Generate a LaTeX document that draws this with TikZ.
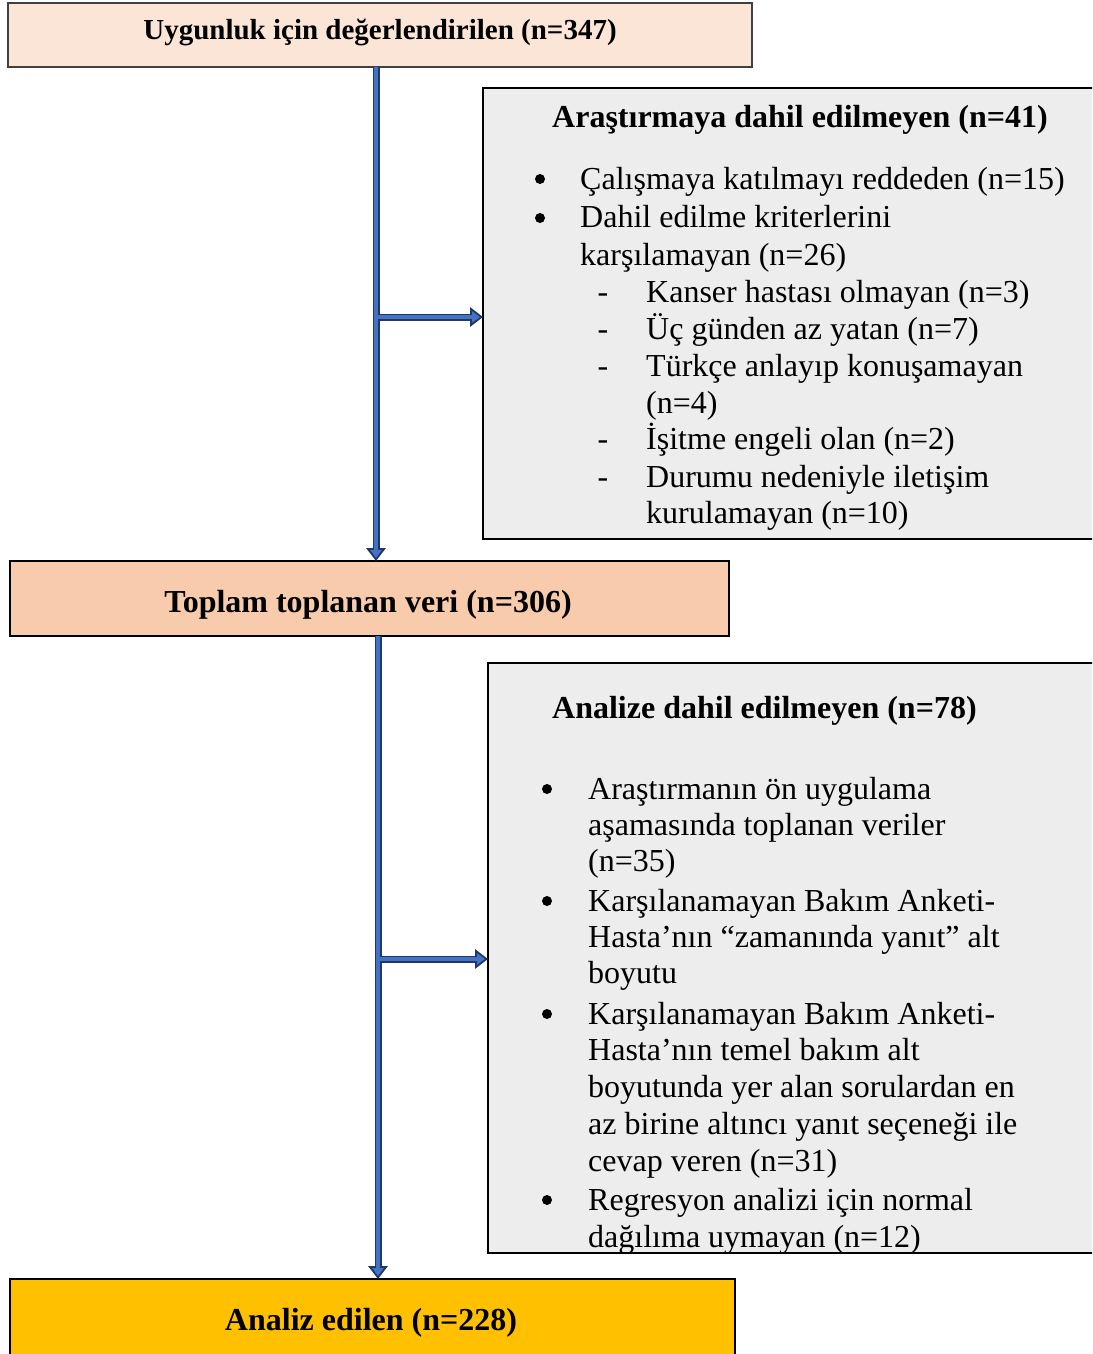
\documentclass[tikz,border=0pt]{standalone}
\usepackage{fontspec}
\setmainfont{Liberation Serif}
\usetikzlibrary{arrows.meta}
\definecolor{peachlight}{HTML}{FBE5D6}
\definecolor{peach}{HTML}{F8CBAD}
\definecolor{gold}{HTML}{FFC000}
\definecolor{panel}{HTML}{EDEDED}
\definecolor{navy}{HTML}{1F3864}
\definecolor{arrblue}{HTML}{4472C4}
\definecolor{edgegray}{HTML}{404040}
\tikzset{
  box/.style={rectangle, anchor=north west, inner sep=0pt, outer sep=0pt, line width=1.6pt},
  ttl/.style={anchor=base, inner sep=0pt, font=\fontsize{32pt}{36.8pt}\selectfont\bfseries},
  ln/.style={anchor=base west, inner sep=0pt, font=\fontsize{32pt}{36.8pt}\selectfont},
  bul/.style={anchor=base, inner sep=0pt, font=\fontsize{32pt}{36.8pt}\selectfont},
  dot/.style={circle, fill=black, inner sep=0pt, minimum size=10pt},
  arrout/.style={draw=navy, line width=7pt, -{Triangle[length=13pt,width=19pt]}},
  arrin/.style={draw=arrblue, line width=3.2pt, -{Triangle[length=8pt,width=11pt]}, shorten >=3pt}
}
\begin{document}
\begin{tikzpicture}[x=1pt,y=-1pt]
\clip (0,0) rectangle (1092,1354);
\fill[white] (0,0) rectangle (1092,1354);
% boxes
\node[box, draw=edgegray, fill=peachlight, minimum width=744pt, minimum height=64pt] (top) at (8,3) {};
\node[box, draw=black, fill=panel, minimum width=620pt, minimum height=451pt] (ex1) at (483,88) {};
\node[box, draw=black, fill=peach, minimum width=719pt, minimum height=75pt] (mid) at (10,561) {};
\node[box, draw=black, fill=panel, minimum width=615pt, minimum height=590pt] (ex2) at (488,663) {};
\node[box, draw=black, fill=gold, minimum width=725pt, minimum height=95pt] (bot) at (10,1279) {};
% titles
\node[ttl, font=\fontsize{29pt}{34pt}\selectfont\bfseries] (ttop) at (380,40) {Uygunluk için değerlendirilen (n=347)};
\node[ttl] (tmid) at (368,612) {Toplam toplanan veri (n=306)};
\node[ttl] (tbot) at (371,1330) {Analiz edilen (n=228)};
\node[ttl, anchor=base west] (tex1) at (552,127) {Araştırmaya dahil edilmeyen (n=41)};
\node[ttl, anchor=base west] (tex2) at (552,718) {Analize dahil edilmeyen (n=78)};
% box 1 contents
\node[dot] (b11) at (540,179) {};
\node[ln] (l11) at (580,189) {Çalışmaya katılmayı reddeden (n=15)};
\node[dot] (b12) at (540,218) {};
\node[ln] (l12) at (580,227) {Dahil edilme kriterlerini};
\node[ln] (l13) at (580,265) {karşılamayan (n=26)};
\node[bul] (d1) at (603,302) {-};
\node[ln] (l14) at (646,302) {Kanser hastası olmayan (n=3)};
\node[bul] (d2) at (603,339) {-};
\node[ln] (l15) at (646,339) {Üç günden az yatan (n=7)};
\node[bul] (d3) at (603,376) {-};
\node[ln] (l16) at (646,376) {Türkçe anlayıp konuşamayan};
\node[ln] (l17) at (646,413) {(n=4)};
\node[bul] (d4) at (603,449) {-};
\node[ln] (l18) at (646,449) {İşitme engeli olan (n=2)};
\node[bul] (d5) at (603,487) {-};
\node[ln] (l19) at (646,487) {Durumu nedeniyle iletişim};
\node[ln] (l110) at (646,523) {kurulamayan (n=10)};
% box 2 contents
\node[dot] (b21) at (547,789) {};
\node[ln] (l21) at (588,799) {Araştırmanın ön uygulama};
\node[ln] (l22) at (588,835) {aşamasında toplanan veriler};
\node[ln] (l23) at (588,871) {(n=35)};
\node[dot] (b22) at (547,901) {};
\node[ln] (l24) at (588,911) {Karşılanamayan Bakım Anketi-};
\node[ln] (l25) at (588,947) {Hasta’nın “zamanında yanıt” alt};
\node[ln] (l26) at (588,983) {boyutu};
\node[dot] (b23) at (547,1014) {};
\node[ln] (l27) at (588,1024) {Karşılanamayan Bakım Anketi-};
\node[ln] (l28) at (588,1060) {Hasta’nın temel bakım alt};
\node[ln] (l29) at (588,1097) {boyutunda yer alan sorulardan en};
\node[ln] (l210) at (588,1134) {az birine altıncı yanıt seçeneği ile};
\node[ln] (l211) at (588,1171) {cevap veren (n=31)};
\node[dot] (b24) at (547,1200) {};
\node[ln] (l212) at (588,1210) {Regresyon analizi için normal};
\node[ln] (l213) at (588,1247) {dağılıma uymayan (n=12)};
% arrows
\coordinate (j1) at (376,317);
\coordinate (j2) at (378,959);
\draw[arrout] (j1) -- (j1 -| ex1.west);
\draw[arrout] (j2) -- (j2 -| ex2.west);
\draw[arrout] (j1 |- top.south) -- (j1 |- mid.north);
\draw[arrout] (j2 |- mid.south) -- (j2 |- bot.north);
\draw[arrin] (j1) -- (j1 -| ex1.west);
\draw[arrin] (j2) -- (j2 -| ex2.west);
\draw[arrin] (j1 |- top.south) -- (j1 |- mid.north);
\draw[arrin] (j2 |- mid.south) -- (j2 |- bot.north);
\end{tikzpicture}
\end{document}
